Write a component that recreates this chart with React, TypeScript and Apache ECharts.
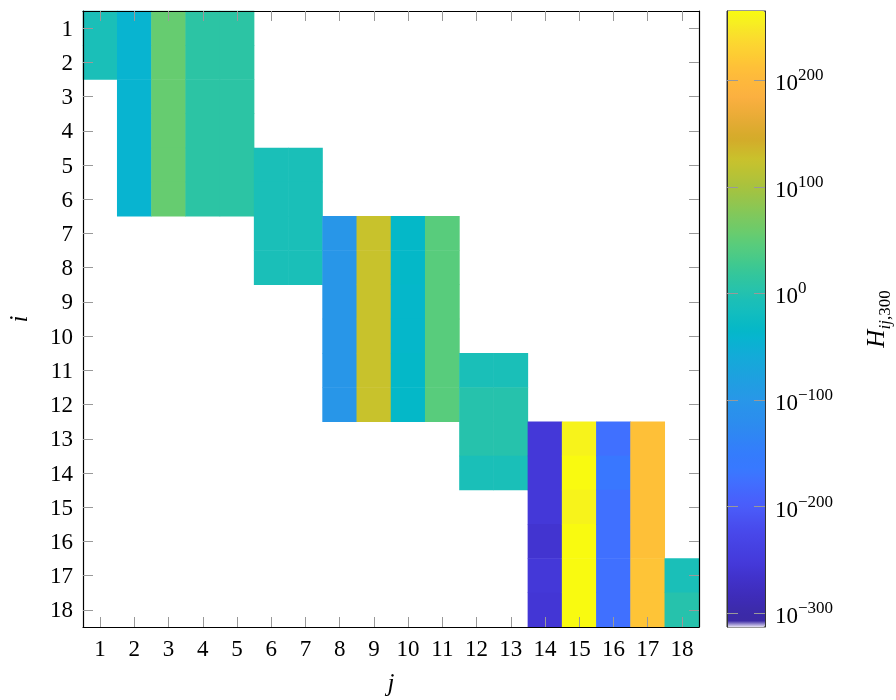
import React, { useEffect, useRef } from "react";
import * as echarts from "echarts";

const jLabels = ["1","2","3","4","5","6","7","8","9","10","11","12","13","14","15","16","17","18"];
const iLabels = ["1","2","3","4","5","6","7","8","9","10","11","12","13","14","15","16","17","18"];

// first row (i) of the non-empty block of every column j
const colStart = [1, 1, 1, 1, 1, 5, 5, 7, 7, 7, 7, 11, 11, 13, 13, 13, 13, 17];
// log10 of H_ij,300 for the rows of every column, top to bottom
const colExponents = [
  [-8, -8],
  [-42, -42, -42, -42, -42, -42],
  [55, 55, 55, 55, 55, 55],
  [10, 10, 10, 10, 10, 10],
  [10, 10, 10, 10, 10, 10],
  [-8, -8, -8, -8],
  [-8, -8, -8, -8],
  [-100, -100, -100, -100, -100, -100],
  [125, 125, 125, 125, 125, 125],
  [-35, -35, -37, -37, -35, -35],
  [45, 45, 45, 45, 45, 45],
  [-8, 3, 3, -8],
  [-8, 3, 3, -8],
  [-255, -255, -255, -262, -255, -258],
  [258, 265, 258, 265, 265, 265],
  [-175, -166, -175, -175, -175, -175],
  [212, 212, 212, 212, 216, 216],
  [-8, 3],
];

const cbMin = -313;
const cbMax = 265;
const cbTicks = [-300, -200, -100, 0, 100, 200];

// colormap stops: [exponent, colour]
const cmapStops: [number, string][] = [
  [-313, "#e6e2f4"],
  [-310, "#b4ace0"],
  [-309, "#3c2aa4"],
  [-300, "#3b2aa8"],
  [-285, "#3e2cb8"],
  [-262, "#4234d0"],
  [-255, "#4438d8"],
  [-225, "#4848ea"],
  [-200, "#4a5cfa"],
  [-175, "#4070ff"],
  [-165, "#3878ff"],
  [-150, "#347cfc"],
  [-130, "#2e88f2"],
  [-100, "#2896e8"],
  [-80, "#1ea0e0"],
  [-60, "#14aad8"],
  [-42, "#08b4d0"],
  [-35, "#04b8c8"],
  [-20, "#10bcc0"],
  [-8, "#1abfb8"],
  [3, "#26c2ac"],
  [10, "#2cc4a4"],
  [25, "#3cc892"],
  [45, "#58cc7c"],
  [55, "#66cc70"],
  [75, "#82c85a"],
  [100, "#a8c23e"],
  [125, "#c8c22c"],
  [145, "#d4ab2a"],
  [165, "#e8ab36"],
  [185, "#fcb040"],
  [200, "#fdb83c"],
  [212, "#fec038"],
  [220, "#fec835"],
  [240, "#fbdc2e"],
  [255, "#f6f020"],
  [265, "#f9fa10"],
];

function hexToRgb(h: string) {
  return [parseInt(h.slice(1, 3), 16), parseInt(h.slice(3, 5), 16), parseInt(h.slice(5, 7), 16)];
}
function buildColors(): string[] {
  const out: string[] = [];
  for (let v = cbMin; v <= cbMax; v++) {
    let k = 0;
    while (k < cmapStops.length - 2 && cmapStops[k + 1][0] < v) k++;
    const [v0, c0] = cmapStops[k];
    const [v1, c1] = cmapStops[k + 1];
    const t = v1 === v0 ? 0 : Math.min(1, Math.max(0, (v - v0) / (v1 - v0)));
    const a = hexToRgb(c0);
    const b = hexToRgb(c1);
    const c = a.map((x, i) => Math.round(x + (b[i] - x) * t));
    out.push(`rgb(${c[0]},${c[1]},${c[2]})`);
  }
  return out;
}

const FONT = "'Liberation Serif', 'DejaVu Serif', serif";

export default function App() {
  const ref = useRef<HTMLDivElement>(null);
  useEffect(() => {
    if (!ref.current) return;
    const chart = echarts.init(ref.current, undefined, { renderer: "svg" });
    const data: number[][] = [];
    colExponents.forEach((vals, c) => {
      vals.forEach((v, r) => data.push([c, colStart[c] - 1 + r, v]));
    });
    const tickStyle = { show: true, inside: true, alignWithLabel: true, length: 10, lineStyle: { color: "#999", width: 1 } };
    const lineStyle = { show: true, lineStyle: { color: "#000", width: 1.2 } };
    const labelStyle = { fontFamily: FONT, fontSize: 23, color: "#000" };
    const supFmt = (v: number) => `{b|10}{s|${v < 0 ? "\u2212" + -v : v}}`;
    chart.setOption({
      animation: false,
      grid: [
        { left: 83, top: 11, width: 616, height: 616, containLabel: false, outerBoundsMode: "none" },
        { left: 727, top: 11, width: 38, height: 616, containLabel: false, outerBoundsMode: "none", show: true, borderColor: "#333", borderWidth: 1, backgroundColor: "transparent" },
      ],
      xAxis: [
        {
          gridIndex: 0, type: "category", data: jLabels, position: "bottom", z: 5,
          axisLine: lineStyle, axisTick: tickStyle, splitLine: { show: false },
          axisLabel: { ...labelStyle, margin: 10 },
          name: "j", nameLocation: "middle", nameGap: 43,
          nameTextStyle: { fontFamily: FONT, fontSize: 25, fontStyle: "italic", color: "#000" },
        },
        {
          gridIndex: 0, type: "category", data: jLabels, position: "top", z: 5,
          axisLine: lineStyle, axisTick: tickStyle, axisLabel: { show: false }, splitLine: { show: false },
        },
        {
          gridIndex: 1, type: "category", data: [""], show: false,
        },
      ],
      yAxis: [
        {
          gridIndex: 0, type: "category", data: iLabels, inverse: true, position: "left", z: 5,
          axisLine: lineStyle, axisTick: tickStyle, splitLine: { show: false },
          axisLabel: { ...labelStyle, margin: 10 },
          name: "i", nameLocation: "middle", nameGap: 52, nameRotate: 90,
          nameTextStyle: { fontFamily: FONT, fontSize: 25, fontStyle: "italic", color: "#000" },
        },
        {
          gridIndex: 0, type: "category", data: iLabels, inverse: true, position: "right", z: 5,
          axisLine: lineStyle, axisTick: tickStyle, axisLabel: { show: false }, splitLine: { show: false },
        },
        {
          gridIndex: 1, type: "value", min: cbMin, max: cbMax, position: "left", z: 5,
          axisLine: { show: true, lineStyle: { color: "#333", width: 1 } },
          axisTick: { show: true, inside: true, length: 11, customValues: cbTicks, lineStyle: { color: "#999" } },
          axisLabel: { show: false }, splitLine: { show: false },
        },
        {
          gridIndex: 1, type: "value", min: cbMin, max: cbMax, position: "right", z: 5,
          axisLine: { show: true, lineStyle: { color: "#333", width: 1 } },
          axisTick: { show: true, inside: true, length: 11, customValues: cbTicks, lineStyle: { color: "#999" } },
          splitLine: { show: false },
          axisLabel: {
            show: true, margin: 10, customValues: cbTicks, formatter: supFmt,
            rich: {
              b: { fontFamily: FONT, fontSize: 23, color: "#000", lineHeight: 28, verticalAlign: "bottom" },
              s: { fontFamily: FONT, fontSize: 17, color: "#000", lineHeight: 15, verticalAlign: "top" },
            },
          },
          name: "{h|H}{s|ij}{t|,300}", nameLocation: "middle", nameGap: 98, nameRotate: 90,
          nameTextStyle: {
            rich: {
              h: { fontFamily: FONT, fontSize: 25, fontStyle: "italic", color: "#000", lineHeight: 30, verticalAlign: "top" },
              s: { fontFamily: FONT, fontSize: 17, fontStyle: "italic", color: "#000", lineHeight: 16, verticalAlign: "bottom" },
              t: { fontFamily: FONT, fontSize: 17, color: "#000", lineHeight: 16, verticalAlign: "bottom" },
            },
          },
        },
      ],
      visualMap: {
        type: "continuous", seriesIndex: 0, min: cbMin, max: cbMax,
        left: 727, top: 11, itemWidth: 38, itemHeight: 616, padding: 0,
        calculable: false, hoverLink: false, text: ["", ""], textGap: 0,
        inRange: { color: buildColors() },
      },
      series: [
        {
          type: "heatmap", xAxisIndex: 0, yAxisIndex: 0, data,
          itemStyle: { borderWidth: 0 },
          emphasis: { disabled: true },
        },
      ],
    });
    return () => chart.dispose();
  }, []);
  return <div ref={ref} style={{ position: "fixed", left: 0, top: 0, width: 896, height: 700 }} />;
}
